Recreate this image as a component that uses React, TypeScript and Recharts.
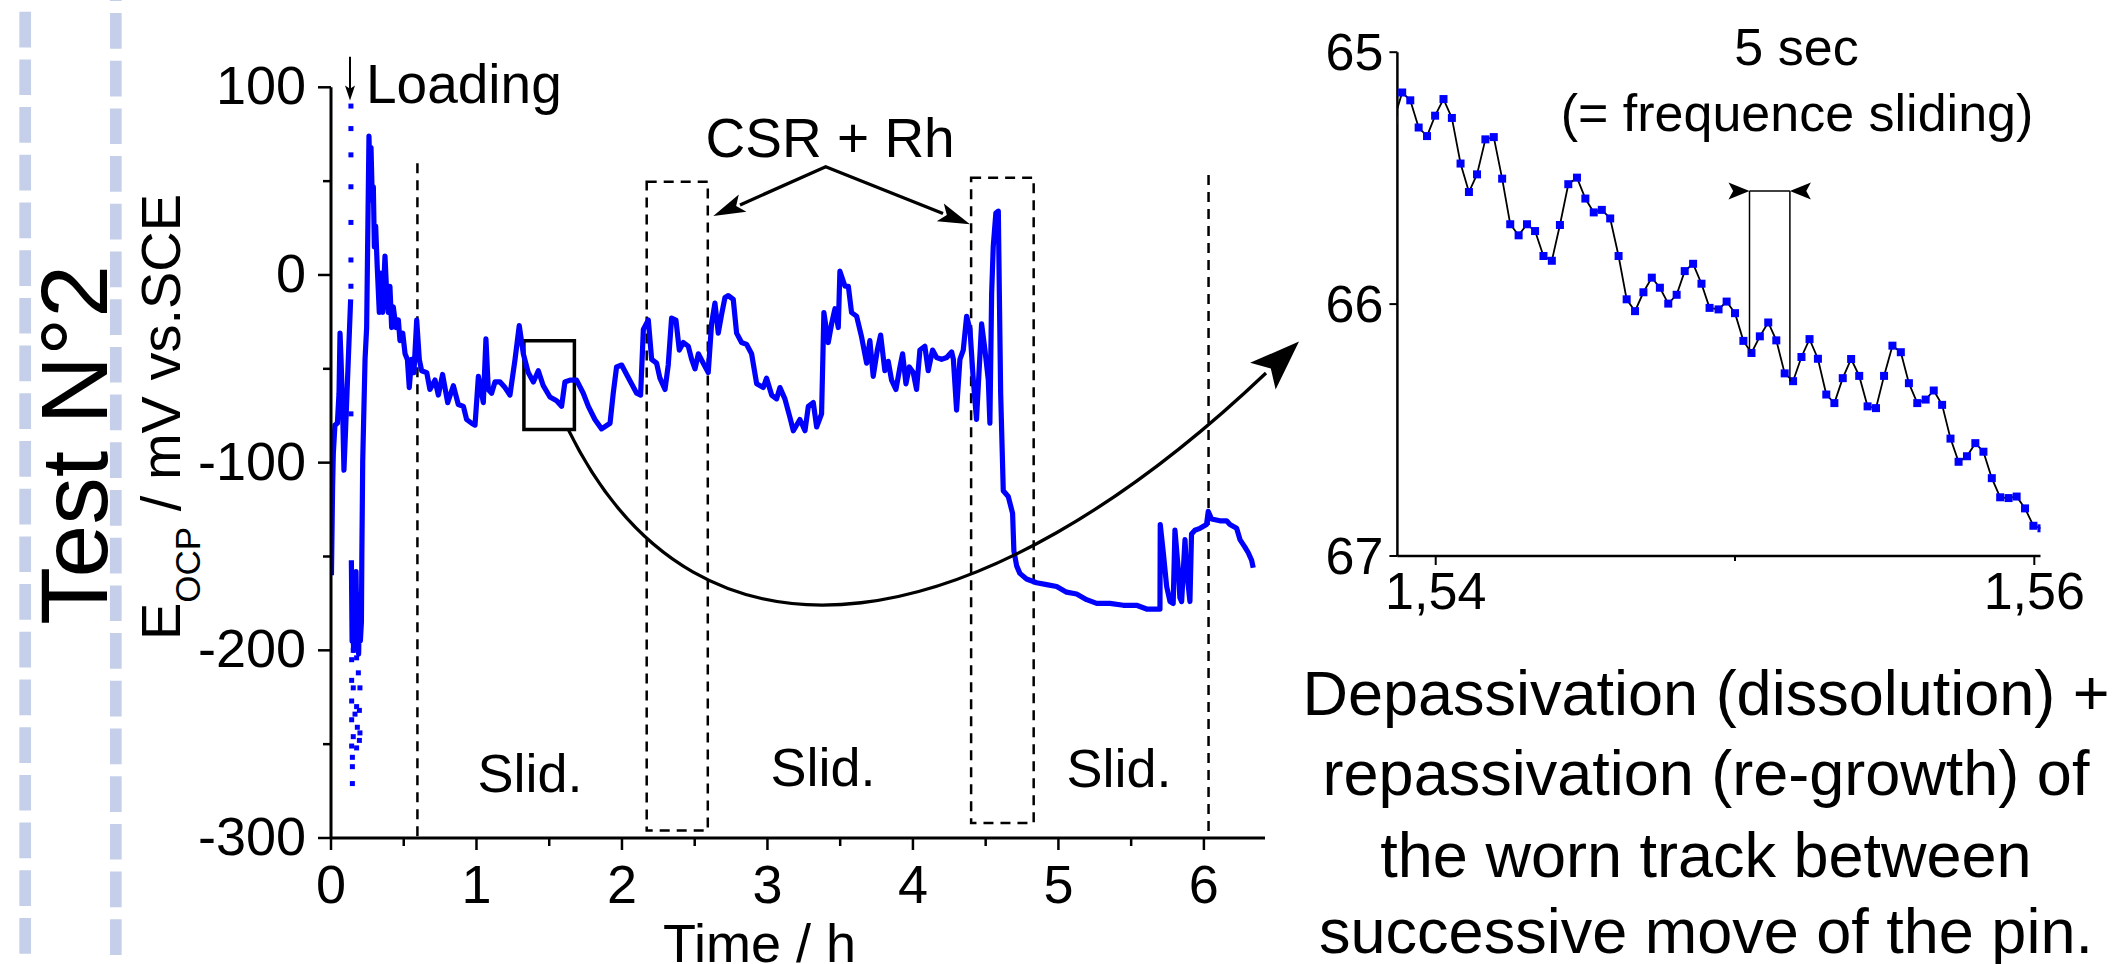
import React from 'react';
import { ComposedChart, Line, Scatter, XAxis, YAxis, ReferenceArea, ReferenceLine } from 'recharts';

const FONT = "'Liberation Sans', Arial, Helvetica, sans-serif";
const BLUE = '#0000ff';

// ---------- main chart data (time in h, potential in mV vs SCE) ----------
const mainTime = [
  0.003, 0.011, 0.016, 0.027, 0.044, 0.055, 0.062, 0.069, 0.080, 0.089,
  0.101, 0.119, 0.135, 0.136, 0.140, 0.145, 0.150, 0.155, 0.160, 0.166,
  0.172, 0.178, 0.184, 0.190, 0.196, 0.202, 0.209, 0.212, 0.218, 0.234,
  0.245, 0.261, 0.268, 0.275, 0.284, 0.291, 0.298, 0.307, 0.318, 0.332,
  0.344, 0.355, 0.371, 0.383, 0.394, 0.405, 0.417, 0.428, 0.447, 0.463,
  0.474, 0.493, 0.509, 0.525, 0.538, 0.554, 0.570, 0.589, 0.607, 0.623,
  0.658, 0.680, 0.715, 0.738, 0.767, 0.802, 0.841, 0.875, 0.910, 0.932,
  0.967, 0.990, 1.013, 1.047, 1.065, 1.081, 1.104, 1.127, 1.162, 1.196,
  1.230, 1.265, 1.294, 1.322, 1.356, 1.391, 1.425, 1.459, 1.505, 1.551,
  1.585, 1.608, 1.643, 1.688, 1.734, 1.769, 1.814, 1.860, 1.918, 1.940,
  1.963, 1.998, 2.032, 2.066, 2.101, 2.128, 2.147, 2.181, 2.204, 2.238,
  2.261, 2.296, 2.318, 2.341, 2.371, 2.394, 2.422, 2.456, 2.479, 2.502,
  2.525, 2.559, 2.593, 2.616, 2.639, 2.662, 2.685, 2.708, 2.731, 2.765,
  2.788, 2.822, 2.857, 2.891, 2.926, 2.971, 2.994, 3.029, 3.063, 3.086,
  3.120, 3.155, 3.178, 3.223, 3.258, 3.281, 3.315, 3.338, 3.372, 3.388,
  3.418, 3.441, 3.464, 3.487, 3.498, 3.533, 3.556, 3.578, 3.613, 3.647,
  3.682, 3.704, 3.727, 3.755, 3.778, 3.807, 3.830, 3.853, 3.883, 3.911,
  3.929, 3.952, 3.975, 4.002, 4.025, 4.048, 4.082, 4.105, 4.135, 4.163,
  4.197, 4.232, 4.266, 4.278, 4.300, 4.323, 4.346, 4.369, 4.392, 4.415,
  4.437, 4.472, 4.495, 4.518, 4.529, 4.541, 4.552, 4.570, 4.587, 4.594,
  4.603, 4.621, 4.655, 4.685, 4.694, 4.713, 4.735, 4.781, 4.850, 4.919,
  4.988, 5.056, 5.125, 5.194, 5.263, 5.354, 5.446, 5.537, 5.606, 5.698,
  5.700, 5.721, 5.744, 5.767, 5.789, 5.801, 5.824, 5.835, 5.847, 5.870,
  5.881, 5.904, 5.915, 5.938, 5.973, 6.018, 6.030, 6.053, 6.110, 6.156,
  6.179, 6.225, 6.248, 6.282, 6.305, 6.328, 6.339,
];
const mainPotential: (number | null)[] = [
  -160, -113, -95, -80, -79, -63, -31, -45, -72, -104,
  -81, -45, -13, null, -152, -195, -160, -200, -165, -198,
  -158, -192, -170, -202, -175, -195, -185, -150, -99, -45,
  -28, 74, 52, 68, 40, 47, 15, 26, 4, -20,
  1, -20, 10, -10, -20, -6, -28, -17, -28, -24,
  -35, -31, -42, -45, -60, -45, -52, -24, -45, -51,
  -52, -61, -56, -64, -53, -68, -59, -69, -70, -77,
  -79, -80, -54, -68, -34, -61, -63, -57, -57, -60,
  -64, -45, -27, -42, -52, -57, -51, -59, -65, -67,
  -70, -57, -56, -56, -63, -70, -77, -82, -79, -63,
  -49, -48, -53, -58, -63, -64, -29, -24, -45, -47,
  -55, -61, -48, -23, -24, -40, -36, -38, -45, -50,
  -42, -47, -52, -26, -15, -31, -21, -12, -11, -13,
  -31, -36, -37, -42, -58, -60, -55, -64, -66, -60,
  -66, -76, -83, -77, -83, -70, -68, -81, -74, -20,
  -36, -26, -18, -28, 2, -6, -6, -20, -22, -33,
  -47, -35, -54, -40, -32, -51, -46, -56, -61, -49,
  -42, -58, -49, -52, -61, -40, -38, -51, -40, -44,
  -45, -44, -41, -45, -72, -45, -40, -22, -29, -56,
  -77, -26, -40, -56, -79, -10, 15, 33, 34, -10,
  -63, -115, -118, -127, -147, -155, -159, -162, -164, -165,
  -166, -169, -170, -173, -175, -175, -176, -176, -178, -178,
  -133, -148, -166, -174, -175, -136, -157, -172, -174, -141,
  -157, -174, -138, -136, -135, -133, -126, -130, -131, -131,
  -133, -135, -141, -145, -148, -152, -156,
];
// sparse (dotted) points of the fast jumps at loading
const dotTime = [
  0.137, 0.137, 0.137, 0.137, 0.137, 0.137, 0.137, 0.137,
  0.142, 0.153, 0.176, 0.142, 0.188, 0.153, 0.199, 0.142, 0.176, 0.165,
  0.195, 0.142, 0.181, 0.153, 0.199, 0.142, 0.176, 0.195, 0.147, 0.147, 0.147,
];
const dotPotential = [
  90, 78, 64, 47, 28, 8, -6, -74,
  -205, -200, -204, -216, -212, -220, -220, -227, -230, -234,
  -232, -237, -241, -246, -244, -251, -252, -248, -257, -262, -271,
];
const mainTicksX = [0, 0.5, 1, 1.5, 2, 2.5, 3, 3.5, 4, 4.5, 5, 5.5, 6];
const mainTicksY = [-300, -250, -200, -150, -100, -50, 0, 50, 100];

// ---------- inset data (zoom 1.54 - 1.56 h) ----------
const insetTime = [
  1.53860, 1.53888, 1.53915, 1.53943, 1.53971, 1.53998, 1.54026, 1.54054, 1.54083, 1.54111,
  1.54138, 1.54166, 1.54194, 1.54222, 1.54249, 1.54277, 1.54305, 1.54332, 1.54360, 1.54388,
  1.54415, 1.54443, 1.54472, 1.54500, 1.54528, 1.54555, 1.54583, 1.54611, 1.54638, 1.54666,
  1.54694, 1.54722, 1.54749, 1.54777, 1.54805, 1.54832, 1.54860, 1.54888, 1.54915, 1.54945,
  1.54972, 1.55000, 1.55028, 1.55055, 1.55083, 1.55111, 1.55138, 1.55166, 1.55194, 1.55222,
  1.55249, 1.55277, 1.55305, 1.55332, 1.55360, 1.55388, 1.55415, 1.55443, 1.55471, 1.55498,
  1.55526, 1.55554, 1.55581, 1.55609, 1.55637, 1.55664, 1.55692, 1.55720, 1.55747, 1.55775,
  1.55803, 1.55830, 1.55858, 1.55886, 1.55914, 1.55941, 1.55969, 1.55997, 1.56024,
];
const insetPotential = [
  65.27, 65.160, 65.191, 65.299, 65.333, 65.252, 65.186, 65.261, 65.442, 65.555,
  65.485, 65.346, 65.337, 65.502, 65.683, 65.727, 65.683, 65.710, 65.809, 65.828,
  65.686, 65.524, 65.498, 65.581, 65.636, 65.626, 65.660, 65.809, 65.981, 66.028,
  65.953, 65.895, 65.935, 65.998, 65.963, 65.869, 65.840, 65.919, 66.015, 66.021,
  65.990, 66.036, 66.146, 66.194, 66.128, 66.073, 66.144, 66.275, 66.306, 66.210,
  66.139, 66.217, 66.359, 66.393, 66.294, 66.218, 66.285, 66.406, 66.413, 66.285,
  66.165, 66.191, 66.314, 66.393, 66.379, 66.343, 66.400, 66.534, 66.626, 66.604,
  66.552, 66.586, 66.691, 66.767, 66.770, 66.764, 66.811, 66.880, 66.89,
];
const insetTicksX = [1.54, 1.55, 1.56];
const insetTicksY = [65, 66, 67];

const mainSeries = mainTime.map((t, i) => ({ t, e: mainPotential[i] }));
const dotSeries = dotTime.map((t, i) => ({ t, e: dotPotential[i] }));
const insetSeries = insetTime.map((t, i) => ({ t, e: insetPotential[i] }));

// ---------- ticks ----------
const MainXTick = (props: any) => {
  const { x, y, payload } = props;
  const v = payload.value;
  const major = Math.abs(v - Math.round(v)) < 1e-6;
  return (
    <g>
      <line x1={x} x2={x} y1={y} y2={y + (major ? 12 : 8)} stroke="#000" strokeWidth={2.5} />
      {major && (
        <text x={x} y={y + 65} textAnchor="middle" fontSize={54} fontFamily={FONT} fill="#000">
          {v}
        </text>
      )}
    </g>
  );
};
const MainYTick = (props: any) => {
  const { x, y, payload } = props;
  const v = payload.value;
  const major = v % 100 === 0;
  return (
    <g>
      <line x1={x - (major ? 13 : 8)} x2={x} y1={y} y2={y} stroke="#000" strokeWidth={2.5} />
      {major && (
        <text x={x - 25} y={y + 17} textAnchor="end" fontSize={54} fontFamily={FONT} fill="#000">
          {v}
        </text>
      )}
    </g>
  );
};
const InsetXTick = (props: any) => {
  const { x, y, payload } = props;
  const v = payload.value;
  const major = Math.abs(v - 1.55) > 1e-6;
  return (
    <g>
      <line x1={x} x2={x} y1={y} y2={y + (major ? 9 : 5)} stroke="#000" strokeWidth={2} />
      {major && (
        <text x={x} y={y + 53} textAnchor="middle" fontSize={52} fontFamily={FONT} fill="#000">
          {v.toFixed(2).replace('.', ',')}
        </text>
      )}
    </g>
  );
};
const InsetYTick = (props: any) => {
  const { x, y, payload } = props;
  return (
    <g>
      <line x1={x - 8} x2={x} y1={y} y2={y} stroke="#000" strokeWidth={2} />
      <text x={x - 14} y={y + 18} textAnchor="end" fontSize={52} fontFamily={FONT} fill="#000">
        {payload.value}
      </text>
    </g>
  );
};

const SquareDot = (props: any) => {
  const { cx, cy, index } = props;
  if (cx == null || cy == null) return <g key={`d${index}`} />;
  return <rect key={`d${index}`} x={cx - 4} y={cy - 4} width={8} height={8} fill={BLUE} />;
};
const SmallSquare = (props: any) => {
  const { cx, cy } = props;
  return <rect x={cx - 2.5} y={cy - 2.5} width={5} height={5} fill={BLUE} />;
};

function head(tx: number, ty: number, dx: number, dy: number, len: number, w: number) {
  const n = Math.hypot(dx, dy);
  const ux = dx / n, uy = dy / n;
  const bx = tx - ux * len, by = ty - uy * len;
  const px = -uy, py = ux;
  const nx = bx + ux * len * 0.22, ny = by + uy * len * 0.22;
  return `${tx},${ty} ${bx + px * w / 2},${by + py * w / 2} ${nx},${ny} ${bx - px * w / 2},${by - py * w / 2}`;
}

const txt = { fontFamily: FONT, fill: '#000' } as const;

export default function App() {
  const dash = { stroke: '#000', strokeWidth: 2.5, strokeDasharray: '10 7', fill: 'none', fillOpacity: 0 };
  return (
    <div style={{ position: 'absolute', left: 0, top: 0, width: 2112, height: 964, background: '#fff', overflow: 'hidden' }}>
      <div style={{ position: 'absolute', left: 0, top: 0 }}>
        <ComposedChart width={2112} height={964} margin={{ top: 87.3, right: 847, bottom: 96, left: 271 }}>
          <XAxis
            type="number" dataKey="t" domain={[0, 6.42]} ticks={mainTicksX} interval={0}
            tickSize={0} tickMargin={0} tickLine={false} tick={MainXTick} height={30}
            axisLine={{ stroke: '#000', strokeWidth: 3 }} allowDataOverflow
          />
          <YAxis
            type="number" dataKey="e" domain={[-300, 100]} ticks={mainTicksY} interval={0}
            tickSize={0} tickMargin={0} tickLine={false} tick={MainYTick} width={60}
            axisLine={{ stroke: '#000', strokeWidth: 3 }} allowDataOverflow
          />
          <ReferenceLine segment={[{ x: 0.594, y: 59.5 }, { x: 0.594, y: -300 }]} {...dash} />
          <ReferenceLine segment={[{ x: 6.032, y: 53.3 }, { x: 6.032, y: -300 }]} {...dash} />
          <ReferenceArea x1={2.17} x2={2.59} y1={-296} y2={49.7} {...dash} ifOverflow="visible" />
          <ReferenceArea x1={4.40} x2={4.83} y1={-292} y2={51.8} {...dash} ifOverflow="visible" />
          <ReferenceArea x1={1.326} x2={1.673} y1={-82.4} y2={-35} stroke="#000" strokeWidth={3.5} fill="none" fillOpacity={0} ifOverflow="visible" />
          <Line
            data={mainSeries} dataKey="e" type="linear" stroke={BLUE} strokeWidth={5.2}
            strokeLinejoin="round" dot={false} activeDot={false} isAnimationActive={false} connectNulls={false}
          />
          <Scatter data={dotSeries} dataKey="e" fill={BLUE} shape={SmallSquare} isAnimationActive={false} />
        </ComposedChart>
      </div>

      <div style={{ position: 'absolute', left: 1300, top: 0 }}>
        <ComposedChart width={812} height={640} margin={{ top: 52.2, right: 71.5, bottom: 54, left: 37.4 }}>
          <XAxis
            type="number" dataKey="t" domain={[1.53872, 1.560207]} ticks={insetTicksX} interval={0}
            tickSize={0} tickMargin={0} tickLine={false} tick={InsetXTick} height={30}
            axisLine={{ stroke: '#000', strokeWidth: 2.5 }} allowDataOverflow
          />
          <YAxis
            type="number" dataKey="e" domain={[65, 67]} reversed ticks={insetTicksY} interval={0}
            tickSize={0} tickMargin={0} tickLine={false} tick={InsetYTick} width={60}
            axisLine={{ stroke: '#000', strokeWidth: 2.5 }} allowDataOverflow
          />
          <Line
            data={insetSeries} dataKey="e" type="linear" stroke="#000" strokeWidth={1.8}
            dot={SquareDot} activeDot={false} isAnimationActive={false}
          />
        </ComposedChart>
      </div>

      <svg width={2112} height={964} style={{ position: 'absolute', left: 0, top: 0, pointerEvents: 'none' }}>
        {/* left decorative dashed bands */}
        <line x1={25.2} x2={25.2} y1={0} y2={964} stroke="#c5cfe9" strokeWidth={11.7} strokeDasharray="35.7 12" strokeDashoffset={36} />
        <line x1={115.8} x2={115.8} y1={0} y2={964} stroke="#c5cfe9" strokeWidth={11.7} strokeDasharray="35.7 12" strokeDashoffset={34.7} />

        <text transform="rotate(-90)" x={-445} y={106.7} textAnchor="middle" fontSize={95} {...txt}>Test N°2</text>

        <text transform="rotate(-90)" x={-640} y={180} fontSize={56} {...txt}>
          <tspan>E</tspan>
          <tspan fontSize={35} dy={20}>OCP</tspan>
          <tspan dy={-20}> / mV vs.SCE</tspan>
        </text>

        <text x={663} y={962} fontSize={54} {...txt}>Time / h</text>

        {/* loading */}
        <line x1={350} x2={350} y1={56.7} y2={90} stroke="#000" strokeWidth={2} />
        <polygon points={head(350, 100.5, 0, 1, 15, 10)} fill="#000" />
        <text x={366} y={102.7} fontSize={55} {...txt}>Loading</text>

        {/* CSR + Rh */}
        <text x={705.6} y={156.7} fontSize={55} {...txt}>CSR + Rh</text>
        <polyline points="740,205 825.7,166.7 943,213.5" fill="none" stroke="#000" strokeWidth={3.3} />
        <polygon points={head(713.3, 216, -112.4, 49.3, 32, 19)} fill="#000" />
        <polygon points={head(970, 224.3, 144.3, 57.6, 32, 19)} fill="#000" />

        {/* Slid. labels */}
        <text x={530} y={792} textAnchor="middle" fontSize={54} {...txt}>Slid.</text>
        <text x={823} y={786} textAnchor="middle" fontSize={54} {...txt}>Slid.</text>
        <text x={1119} y={787} textAnchor="middle" fontSize={54} {...txt}>Slid.</text>

        {/* connecting curved arrow */}
        <path d="M568,429 C700,700 985,640 1266,373" fill="none" stroke="#000" strokeWidth={3.3} />
        <polygon points={head(1299, 341.6, 36, -34.4, 50, 37)} fill="#000" />

        {/* inset annotations */}
        <text x={1796.5} y={65.3} textAnchor="middle" fontSize={52} {...txt}>5 sec</text>
        <text x={1797} y={131.4} textAnchor="middle" fontSize={52} {...txt}>(= frequence sliding)</text>
        <line x1={1749.5} x2={1749.5} y1={191} y2={353.5} stroke="#000" strokeWidth={1.5} />
        <line x1={1789.9} x2={1789.9} y1={191} y2={381.6} stroke="#000" strokeWidth={1.5} />
        <line x1={1749.5} x2={1789.9} y1={191} y2={191} stroke="#000" strokeWidth={1.5} />
        <polygon points={head(1749.5, 191, 1, 0, 21, 17)} fill="#000" />
        <polygon points={head(1789.9, 191, -1, 0, 21, 17)} fill="#000" />

        {/* description */}
        <text x={1706} y={715} textAnchor="middle" fontSize={63} {...txt}>Depassivation (dissolution) +</text>
        <text x={1706} y={795} textAnchor="middle" fontSize={63} {...txt}>repassivation (re-growth) of</text>
        <text x={1706} y={877} textAnchor="middle" fontSize={63} {...txt}>the worn track between</text>
        <text x={1706} y={953} textAnchor="middle" fontSize={63} {...txt}>successive move of the pin.</text>
      </svg>
    </div>
  );
}
